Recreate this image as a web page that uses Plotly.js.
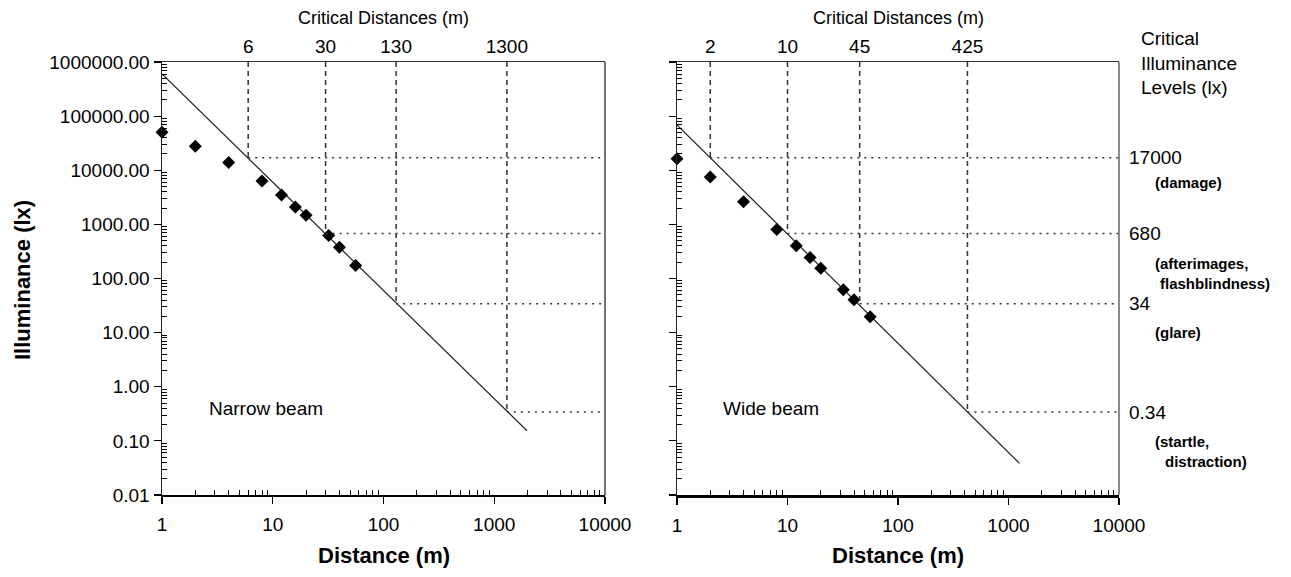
<!DOCTYPE html>
<html>
<head>
<meta charset="utf-8">
<script src="https://cdn.plot.ly/plotly-3.0.1.min.js"></script>
<style>html,body{margin:0;padding:0;background:#fff;}#chart{width:1291px;height:577px;}</style>
</head>
<body>
<div id="chart"></div>
<script>
// ---- data ----
const distance = [1, 2, 4, 8, 12, 16, 20, 32, 40, 56];
const narrowLux = [50600, 27900, 13900, 6320, 3490, 2100, 1470, 621, 378, 174];
const wideLux = [16300, 7500, 2630, 800, 401, 244, 155, 62, 40.5, 19.7];
const narrowFitX = [1, 1977];
const narrowFitY = [600000, 0.1535];
const wideFitX = [1, 1259];
const wideFitY = [68700, 0.0384];
const critLevels = [17000, 680, 34, 0.34];
const critLevelText = ['17000', '680', '34', '0.34'];
const critDistNarrow = [6, 30, 130, 1300];
const critDistWide = [2, 10, 45, 425];
const critDescLines = [
  ['(damage)'],
  ['(afterimages,', ' flashblindness)'],
  ['(glare)'],
  ['(startle,', '  distraction)']
];
const yTickVals = [0.01, 0.1, 1, 10, 100, 1000, 10000, 100000, 1000000];
const yTickText = ['0.01', '0.10', '1.00', '10.00', '100.00', '1000.00', '10000.00', '100000.00', '1000000.00'];
const xTickVals = [1, 10, 100, 1000, 10000];
const xTickText = ['1', '10', '100', '1000', '10000'];
const yTop = 1000000, xRight = 10000;

// ---- helpers ----
const W = 1291, H = 577;
const FONT = 'Liberation Sans, Arial, sans-serif';
function minorVals(lo, hi) {
  const v = [];
  for (let e = lo; e < hi; e++) for (let m = 2; m <= 9; m++) v.push(m * Math.pow(10, e));
  return v;
}
const minorX = minorVals(0, 4), minorY = minorVals(-2, 6);

const traces = [];
function critLines(dists, xa, ya) {
  dists.forEach((d, i) => {
    traces.push({x: [d, d], y: [yTop, critLevels[i]], xaxis: xa, yaxis: ya, mode: 'lines',
      line: {color: '#333', width: 1.5, dash: '5px,4px'}, hoverinfo: 'skip', showlegend: false});
    traces.push({x: [d, xRight], y: [critLevels[i], critLevels[i]], xaxis: xa, yaxis: ya, mode: 'lines',
      line: {color: '#333', width: 1.5, dash: '2px,5px'}, hoverinfo: 'skip', showlegend: false});
  });
}
critLines(critDistNarrow, 'x2', 'y');
critLines(critDistWide, 'x4', 'y2');

traces.push({x: narrowFitX, y: narrowFitY, xaxis: 'x', yaxis: 'y', mode: 'lines',
  line: {color: '#222', width: 1.2}, showlegend: false});
traces.push({x: wideFitX, y: wideFitY, xaxis: 'x3', yaxis: 'y2', mode: 'lines',
  line: {color: '#222', width: 1.2}, showlegend: false});
traces.push({x: distance, y: narrowLux, xaxis: 'x', yaxis: 'y', mode: 'markers', cliponaxis: false,
  marker: {symbol: 'diamond', size: 10, color: '#000'}, showlegend: false});
traces.push({x: distance, y: wideLux, xaxis: 'x3', yaxis: 'y2', mode: 'markers', cliponaxis: false,
  marker: {symbol: 'diamond', size: 10, color: '#000'}, showlegend: false});

const yDom = [1 - 495 / H, 1 - 62 / H];
const xDomL = [162 / W, 605 / W];
const xDomR = [677 / W, 1119 / W];

function bottomX(dom, anchor, lw) {
  return {type: 'log', range: [0, 4], domain: dom, anchor: anchor,
    tickmode: 'array', tickvals: xTickVals, ticktext: xTickText,
    ticks: 'outside', ticklen: 7, tickwidth: 1.2, tickcolor: '#000', ticklabelstandoff: 5,
    minor: {tickmode: 'array', tickvals: minorX, ticks: 'inside', ticklen: 5, tickwidth: 1, tickcolor: '#000', showgrid: false},
    showline: true, linecolor: '#000', linewidth: lw, mirror: false, showgrid: false, zeroline: false,
    tickfont: {size: 19, color: '#000'}};
}
function topX(dom, overlay, anchor, vals) {
  return {type: 'log', range: [0, 4], domain: dom, overlaying: overlay, anchor: anchor, side: 'top',
    tickmode: 'array', tickvals: vals, ticktext: vals.map(String), ticks: '',
    showline: true, linecolor: '#333', linewidth: 1.5, showgrid: false, zeroline: false,
    tickfont: {size: 19, color: '#000'}};
}
function leftY(dom, anchor, labels) {
  return {type: 'log', range: [-2, 6], domain: dom, anchor: anchor,
    tickmode: 'array', tickvals: yTickVals, ticktext: yTickText, showticklabels: labels,
    ticks: 'outside', ticklen: 7, tickwidth: 1.2, tickcolor: '#000',
    minor: {tickmode: 'array', tickvals: minorY, ticks: 'inside', ticklen: 5, tickwidth: 1, tickcolor: '#000', showgrid: false},
    showline: true, linecolor: '#222', linewidth: 1.5, showgrid: false, zeroline: false,
    tickfont: {size: 19, color: '#000'}};
}

const ann = [];
const pctx = (px) => px / W, pcty = (py) => 1 - py / H;
function txt(text, px, py, size, extra) {
  return Object.assign({text: text, xref: 'paper', yref: 'paper', x: pctx(px), y: pcty(py),
    xanchor: 'center', yanchor: 'middle', showarrow: false, font: {size: size, color: '#000'}}, extra || {});
}
ann.push(txt('Critical Distances (m)', (162 + 605) / 2, 18, 18));
ann.push(txt('Critical Distances (m)', (677 + 1119) / 2, 18, 18));
ann.push(txt('<b>Distance (m)</b>', (162 + 605) / 2, 555, 22));
ann.push(txt('<b>Distance (m)</b>', (677 + 1119) / 2, 555, 22));
ann.push(txt('<b>Illuminance (lx)</b>', 22, 280, 22, {textangle: -90}));
ann.push(txt('Narrow beam', 207, 408, 19, {xanchor: 'left'}));
ann.push(txt('Wide beam', 721, 408, 19, {xanchor: 'left'}));
ann.push(txt('Critical<br>Illuminance<br>Levels (lx)', 1139, 63, 19, {xanchor: 'left', align: 'left'}));
critLevels.forEach((lv, i) => {
  ann.push({text: critLevelText[i], xref: 'paper', yref: 'y2', x: pctx(1127), y: Math.log10(lv), xanchor: 'left', yanchor: 'middle', showarrow: false, font: {size: 19, color: '#000'}});
  critDescLines[i].forEach((line, j) => {
    const indent = line.length - line.trimStart().length;
    ann.push({text: '<b>' + line.trim() + '</b>', xref: 'paper', yref: 'y2', x: pctx(1153 + indent * 5), y: Math.log10(lv),
      yshift: -25 - j * 20 - (i === 1 ? 5 : 0) - (i >= 2 ? 4 : 0), xanchor: 'left', yanchor: 'middle', showarrow: false, font: {size: 15, color: '#000'}});
  });
});

const shapes = [
  {type: 'line', xref: 'x domain', yref: 'y domain', x0: 1, x1: 1, y0: 0, y1: 1, line: {color: '#444', width: 1.5}},
  {type: 'line', xref: 'x3 domain', yref: 'y2 domain', x0: 1, x1: 1, y0: 0, y1: 1, line: {color: '#666', width: 1.5}}
];

const layout = {
  width: W, height: H, margin: {l: 0, r: 0, t: 0, b: 0},
  paper_bgcolor: '#fff', plot_bgcolor: '#fff',
  font: {family: FONT, color: '#000'},
  showlegend: false,
  xaxis: bottomX(xDomL, 'y', 1.5),
  xaxis2: topX(xDomL, 'x', 'y', critDistNarrow),
  xaxis3: bottomX(xDomR, 'y2', 2.5),
  xaxis4: topX(xDomR, 'x3', 'y2', critDistWide),
  yaxis: leftY(yDom, 'x', true),
  yaxis2: leftY(yDom, 'x3', false),
  annotations: ann,
  shapes: shapes
};

Plotly.newPlot('chart', traces, layout, {displayModeBar: false, staticPlot: true});
</script>
</body>
</html>
